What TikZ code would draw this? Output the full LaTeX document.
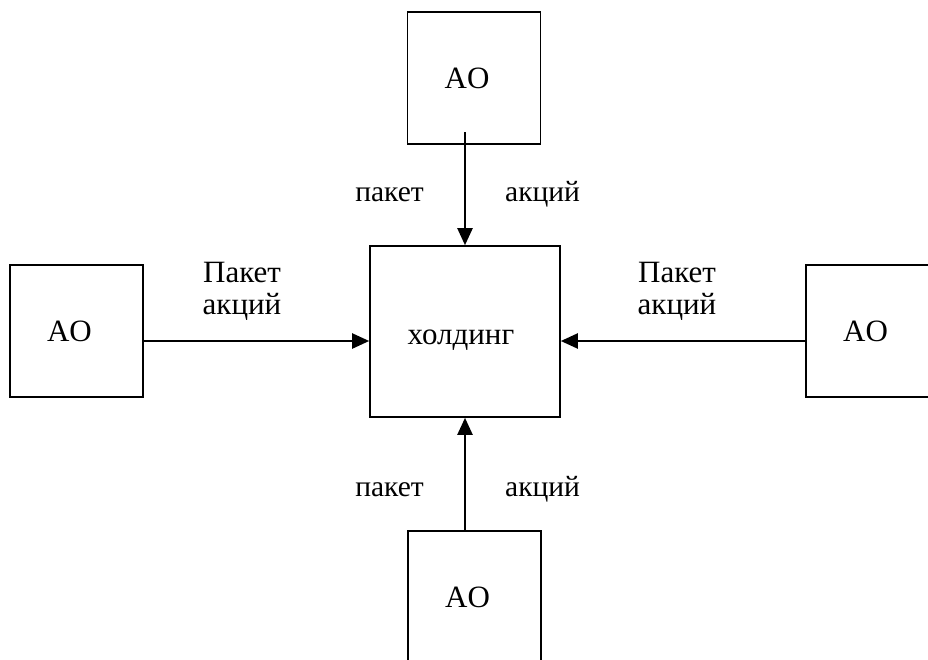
\documentclass[tikz,border=0pt]{standalone}
\usepackage{fontspec}
\setmainfont{Liberation Serif}
\usetikzlibrary{arrows.meta}
\tikzset{
  box/.style={draw=black, line width=1.6pt, inner sep=0pt, minimum width=133pt, minimum height=132pt, font=\fontsize{31}{36}\selectfont},
  lbl/.style={inner sep=0pt, font=\fontsize{31}{36}\selectfont},
  slbl/.style={inner sep=0pt, font=\fontsize{29.5}{34}\selectfont},
  thinln/.style={line width=1.2pt},
  arr/.style={line width=2.2pt, -{Triangle[length=17pt,width=15pt]}}
}
\begin{document}
\begin{tikzpicture}[x=1pt,y=-1pt]
\clip (0,0) rectangle (928,659);
\fill[white] (0,0) rectangle (928,659);
% boxes
\node[box, minimum width=190pt, minimum height=171pt] (C) at (465,331.5) {};
\node[lbl] (Ct) at (461,340) {холдинг};
\node[box] (T) at (474,78) {AO\kern14pt};
\node[box] (L) at (76.5,331) {AO\kern14pt};
\node[box] (R) at (872.5,331) {AO\kern14pt};
\node[box] (B) at (474.5,597) {AO\kern14pt};
% connectors
\coordinate (lmid) at (218,341);
\coordinate (rmid) at (693,341);
\coordinate (tstart) at (465,132);
\draw[thinln] (L.east |- lmid) -- (lmid);
\draw[arr] (lmid) -- (C.west |- lmid);
\draw[thinln] (R.west |- rmid) -- (rmid);
\draw[arr] (rmid) -- (C.east |- rmid);
\draw[arr] (tstart) -- (C.north);
\draw[arr] (C.south |- B.north) -- (C.south);
% labels
\node[slbl, anchor=base east] (tl) at (424,201) {пакет};
\node[slbl, anchor=base west] (tr) at (505,201) {акций};
\node[slbl, anchor=base east] (bl) at (424,496) {пакет};
\node[slbl, anchor=base west] (br) at (505,496) {акций};
\node[lbl, anchor=base] (l1) at (242,282) {Пакет};
\node[lbl, anchor=base] (l2) at (242,314) {акций};
\node[lbl, anchor=base] (r1) at (677,282) {Пакет};
\node[lbl, anchor=base] (r2) at (677,314) {акций};
\end{tikzpicture}
\end{document}
